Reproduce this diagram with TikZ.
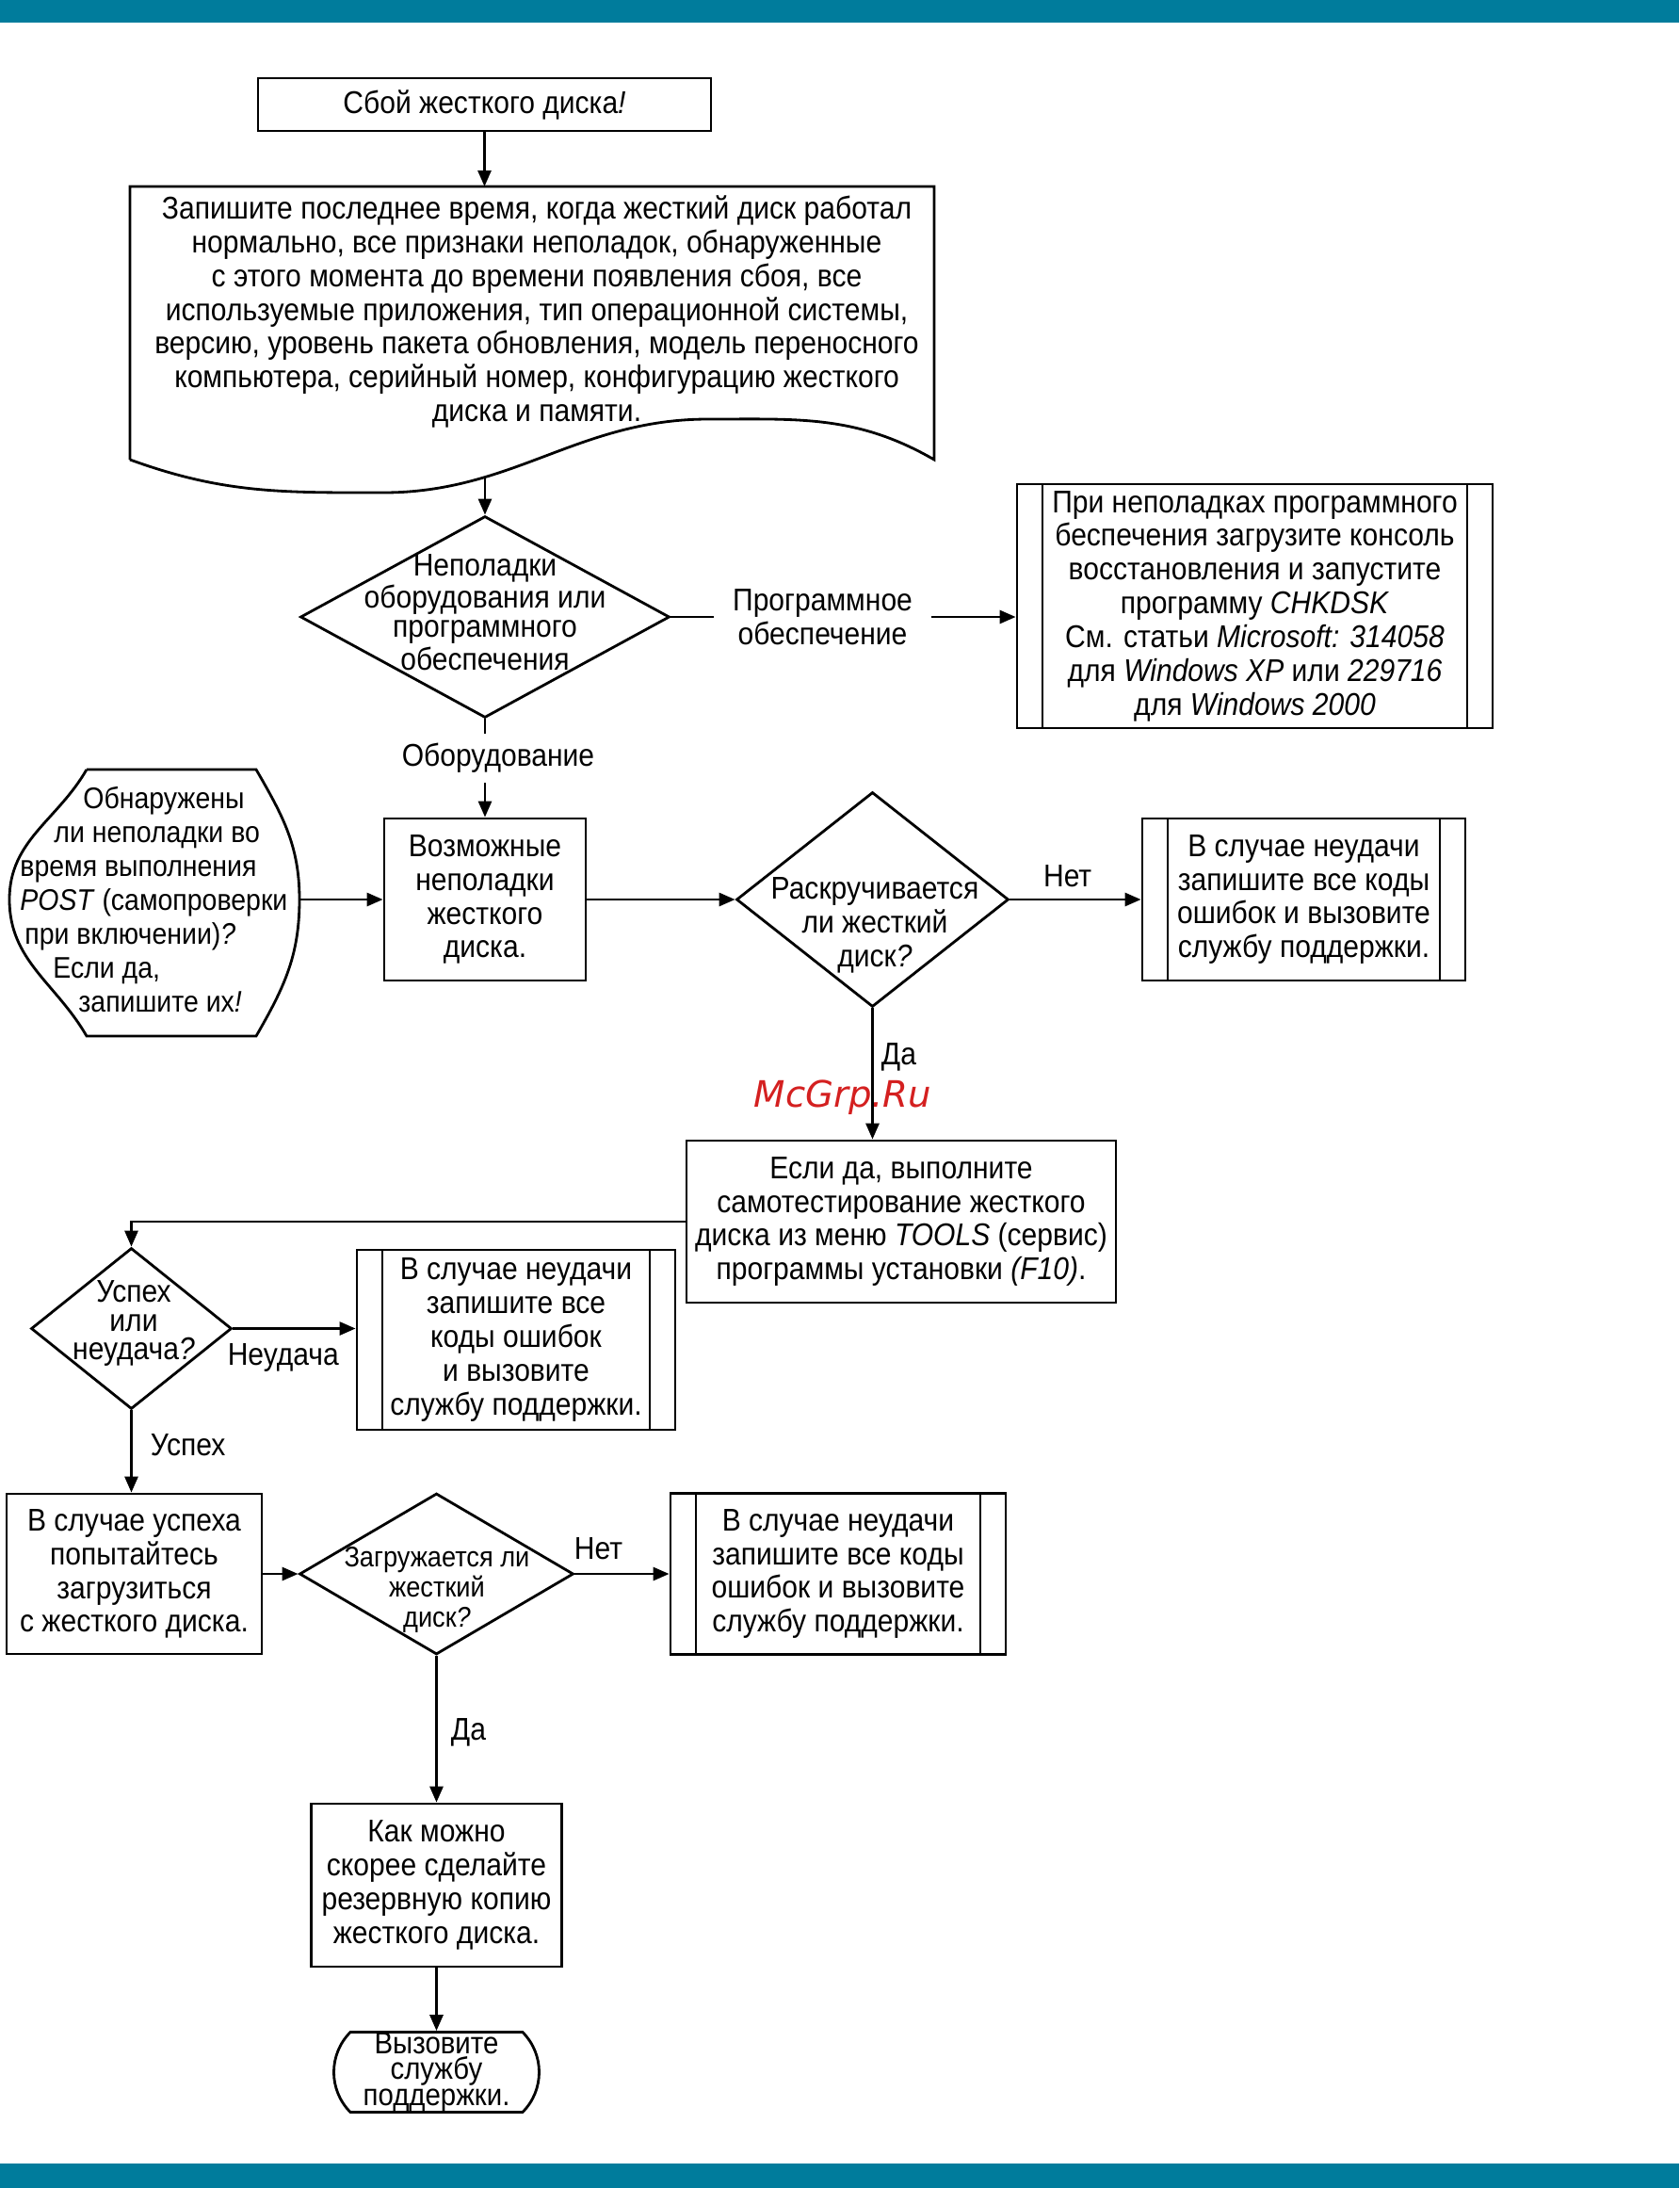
\documentclass[tikz,border=0pt]{standalone}
\usepackage{fontspec}
\setmainfont{Liberation Sans}[FakeStretch=0.9]
\newfontfamily\markfont{DejaVu Sans}
\usetikzlibrary{arrows.meta,calc,positioning,shapes.geometric,shapes.misc}
\definecolor{band}{RGB}{0,124,156}
\definecolor{markred}{RGB}{212,32,32}

\begin{document}
\begin{tikzpicture}[line width=0.8pt,
					every node/.style={
						font=\fontsize{9.5}{10.2}\selectfont,
						align=center, inner sep=0pt
					},
					stepbox/.style={draw, rectangle},
					subbox/.style={stepbox, path picture={
						\draw ([xshift=\Inset]path picture bounding box.north west) -- ([xshift=\Inset]path picture bounding box.south west)
							([xshift=-\Inset]path picture bounding box.north east) -- ([xshift=-\Inset]path picture bounding box.south east);
					}},
					ask/.style={draw, diamond},
					asktext/.style={font=\fontsize{9.5}{8.7}\selectfont},
					flow/.style={-{Triangle[length=1.7mm,width=1.4mm]}},
					lbl/.style={fill=white, inner xsep=2mm, inner ysep=1mm}
				]
				\newlength\Inset \setlength\Inset{2.7mm}
				\useasboundingbox (0,0) rectangle (17.83,-23.23);
				\fill[band] (0,0) rectangle (17.83,-0.24);
				\fill[band] (0,-22.97) rectangle (17.83,-23.23);
				
				% start and notes
				\node[stepbox, minimum width=4.81cm, minimum height=0.56cm] (S) at (5.145,-1.11) {Сбой жесткого диска\textit{!}};
				\node (R) at (5.70,-3.31) {Запишите последнее время, когда жесткий диск работал\\ нормально, все признаки неполадок, обнаруженные\\ с этого момента до времени появления сбоя, все\\ используемые приложения, тип операционной системы,\\ версию, уровень пакета обновления, модель переносного\\ компьютера, серийный номер, конфигурацию жесткого\\ диска и памяти.};
				\coordinate (Rnw) at (1.38,-1.98);
				\coordinate (Rne) at (9.92,-1.98);
				\coordinate (Rse) at (9.92,-4.88);
				\coordinate (Rsw) at (1.38,-4.88);
				\coordinate (Rout) at (5.15,-5.06);
				\draw (Rsw) -- (Rnw) -- (Rne) -- (Rse) to[out=150,in=0] (7.52,-4.45)
					to[out=180,in=0] (4.07,-5.23) to[out=180,in=-20] (Rsw);
				
				% hardware or software
				\node[ask, minimum width=3.92cm, minimum height=2.14cm] (Q1) at (5.15,-6.55) {};
				\node[asktext] (Q1t) at (5.15,-6.50) {Неполадки\\ оборудования или\\ программного\\ обеспечения};
				\node[subbox, minimum width=5.05cm, minimum height=2.59cm] (P1) at (13.325,-6.435) {При неполадках программного\\ беспечения загрузите консоль\\ восстановления и запустите\\ программу \textit{CHKDSK}\\ См. статьи \textit{Microsoft: 314058}\\ для \textit{Windows XP} или \textit{229716}\\ для \textit{Windows 2000}};
				
				% disk row
				\node[stepbox, minimum width=2.14cm, minimum height=1.72cm] (H) at (5.15,-9.55) {Возможные\\ неполадки\\ жесткого\\ диска.};
				\node[anchor=west, align=left, font=\fontsize{9}{10.2}\selectfont] (D) at (0.20,-9.55) {\hspace*{6.7mm}Обнаружены\\ \hspace*{3.6mm}ли неполадки во\\ время выполнения\\ \textit{POST} (самопроверки\\ \hspace*{0.5mm}при включении)\textit{?}\\ \hspace*{3.5mm}Если да,\\ \hspace*{6.2mm}запишите их\textit{!}};
				\coordinate (Dnw) at (0.92,-8.17);
				\coordinate (Dw) at (0.10,-9.55);
				\coordinate (De) at (3.18,-9.55);
				\draw (Dnw) -- (2.72,-8.17) to[out=-60,in=90] (De) to[out=-90,in=60] (2.72,-11.00)
					-- (0.92,-11.00) to[out=120,in=-90] (Dw) to[out=90,in=-120] (Dnw);
				\node[ask, minimum width=2.89cm, minimum height=2.28cm] (Q2) at (9.265,-9.55) {};
				\node (Q2t) at (9.29,-9.82) {Раскручивается\\ ли жесткий\\ диск\textit{?}};
				\node[subbox, minimum width=3.43cm, minimum height=1.72cm] (F1) at (13.845,-9.55) {В случае неудачи\\ запишите все коды\\ ошибок и вызовите\\ службу поддержки.};
				
				% self test
				\node[stepbox, minimum width=4.56cm, minimum height=1.72cm] (T) at (9.57,-12.97) {Если да, выполните\\ самотестирование жесткого\\ диска из меню \textit{TOOLS} (сервис)\\ программы установки \textit{(F10)}.};
				\node[text=markred, font=\markfont\itshape\fontsize{11}{11}\selectfont] (W) at (8.95,-11.65) {McGrp.Ru};
				\node[ask, minimum width=2.13cm, minimum height=1.71cm] (Q3) at (1.395,-14.105) {};
				\node[asktext] (Q3t) at (1.42,-14.05) {Успех\\ или\\ неудача\textit{?}};
				\node[subbox, minimum width=3.38cm, minimum height=1.91cm] (F2) at (5.48,-14.225) {В случае неудачи\\ запишите все\\ коды ошибок\\ и вызовите\\ службу поддержки.};
				
				% boot
				\node[stepbox, minimum width=2.71cm, minimum height=1.70cm] (K) at (1.425,-16.71) {В случае успеха\\ попытайтесь\\ загрузиться\\ с жесткого диска.};
				\node[ask, minimum width=2.91cm, minimum height=1.71cm] (Q4) at (4.635,-16.71) {};
				\node[font=\fontsize{8.6}{9.2}\selectfont] (Q4t) at (4.64,-16.88) {Загружается ли\\ жесткий\\ диск\textit{?}};
				\node[subbox, minimum width=3.56cm, minimum height=1.71cm] (F3) at (8.90,-16.71) {В случае неудачи\\ запишите все коды\\ ошибок и вызовите\\ службу поддержки.};
				\node[stepbox, minimum width=2.66cm, minimum height=1.73cm] (B) at (4.635,-20.015) {Как можно\\ скорее сделайте\\ резервную копию\\ жесткого диска.};
				\node[draw, rounded rectangle, rounded rectangle arc length=90, minimum width=2.18cm, minimum height=0.84cm, font=\fontsize{9.3}{6.9}\selectfont] (E) at (4.635,-22.00) {Вызовите\\ службу\\ поддержки.};
				
				\draw[flow] (S.south) -- (S.south |- Rnw);
				\draw[flow] (Rout) -- (Q1.north);
				\draw[flow] (Q1.east) -- node[lbl, pos=0.44] (L1) {Программное\\ обеспечение} (Q1.east -| P1.west);
				\draw[flow] (Q1.south) -- node[lbl, pos=0.40, xshift=0.14cm] (L2) {Оборудование} (H.north);
				\draw[flow] (De) -- (H.west);
				\draw[flow] (H.east) -- (Q2.west);
				\draw[flow] (Q2.east) -- node[pos=0.44, above=0.12cm] (L3) {Нет} (F1.west);
				\draw[flow] (Q2.south) -- node[pos=0.37, right=0.08cm] (L4) {Да} (Q2.south |- T.north);
				\draw[flow] (T.west) -| (Q3.north);
				\draw[flow] (Q3.east) -- node[pos=0.41, below=0.15cm] (L5) {Неудача} (Q3.east -| F2.west);
				\draw[flow] (Q3.south) -- node[pos=0.42, right=0.19cm] (L6) {Успех} (Q3.south |- K.north);
				\draw[flow] (K.east) -- (Q4.west);
				\draw[flow] (Q4.east) -- node[pos=0.25, above=0.14cm] (L7) {Нет} (F3.west);
				\draw[flow] (Q4.south) -- node[pos=0.52, right=0.14cm] (L8) {Да} (B.north);
				\draw[flow] (B.south) -- (E.north);
			\end{tikzpicture}
\end{document}
